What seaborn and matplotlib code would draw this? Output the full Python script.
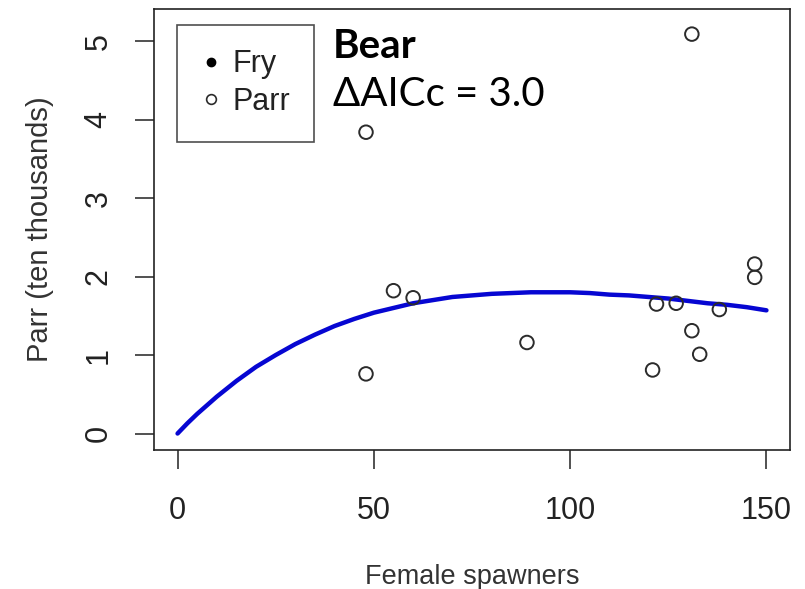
import matplotlib
matplotlib.use("Agg")
import matplotlib.pyplot as plt
import seaborn as sns
import pandas as pd
from matplotlib.lines import Line2D

# Observed parr data (female spawners, parr in ten thousands)
spawners = [48, 55, 60, 48, 89, 121, 122, 127, 131, 133, 138, 147, 147, 131]
parr = [3.84, 1.82, 1.73, 0.76, 1.16, 0.81, 1.65, 1.66, 1.31, 1.01, 1.58, 2.16, 1.99, 5.09]

# Fitted curve
curve_x = [0, 2.5, 5, 10, 15, 20, 25, 30, 35, 40, 45, 50, 55, 60, 65, 70, 75,
           80, 85, 90, 95, 100, 105, 110, 115, 120, 125, 130, 135, 140, 145, 150]
curve_y = [0.0, 0.13, 0.25, 0.47, 0.67, 0.85, 1.00, 1.14, 1.26, 1.37, 1.46, 1.54,
           1.60, 1.66, 1.70, 1.74, 1.76, 1.78, 1.79, 1.80, 1.80, 1.80, 1.79, 1.77,
           1.76, 1.74, 1.72, 1.69, 1.66, 1.64, 1.61, 1.57]

x_ticks = [0, 50, 100, 150]
y_ticks = [0, 1, 2, 3, 4, 5]

sns.set_theme(style="white")
plt.rcParams['font.family'] = ['Liberation Sans', 'DejaVu Sans']

fig = plt.figure(figsize=(8.05, 5.89), dpi=100)
ax = fig.add_axes([154/805, 1-450/589, 636/805, 441/589])

pts = pd.DataFrame({"spawners": spawners, "parr": parr})
crv = pd.DataFrame({"x": curve_x, "y": curve_y})

sns.lineplot(data=crv, x="x", y="y", ax=ax, color="#0606d2", linewidth=3.2, zorder=2)
sns.scatterplot(data=pts, x="spawners", y="parr", ax=ax, marker="o", s=95,
                facecolor="none", edgecolor="#2b2b2b", linewidth=1.4, zorder=3)

ax.set_xlim(-6, 156)
ax.set_ylim(-0.21, 5.41)
ax.set_xticks(x_ticks)
ax.set_yticks(y_ticks)
ax.set_xticklabels([str(v) for v in x_ticks])
ax.set_yticklabels([str(v) for v in y_ticks], rotation=90, va="center")

for s in ax.spines.values():
    s.set_visible(True)
    s.set_color("#222222")
    s.set_linewidth(1.2)

ax.tick_params(axis="both", which="both", direction="out", length=14, width=1.1,
               color="#222222", labelsize=22, labelcolor="#222222")
ax.tick_params(axis="x", pad=19, bottom=True)
ax.tick_params(axis="y", pad=15, left=True)

ax.set_xlabel("Female spawners", fontsize=19.5, color="#333333")
ax.set_ylabel("Parr (ten thousands)", fontsize=21, color="#333333")
ax.xaxis.set_label_coords(0.5, (450-577)/441)
ax.xaxis.label.set_va("center")
ax.yaxis.set_label_coords((40-154)/636, 0.5)
ax.yaxis.label.set_va("center")

handles = [
    Line2D([0], [0], marker="o", linestyle="none", markerfacecolor="black",
           markeredgecolor="black", markersize=6),
    Line2D([0], [0], marker="o", linestyle="none", markerfacecolor="none",
           markeredgecolor="#2b2b2b", markersize=7, markeredgewidth=1.2),
]
leg = ax.legend(handles, ["Fry", "Parr"], loc="upper left",
                bbox_to_anchor=((177-154)/636, (450-25)/441),
                frameon=True, fancybox=False, fontsize=22, handletextpad=0.4,
                handlelength=0.6, borderpad=0.8, labelspacing=0.25,
                borderaxespad=0)
leg.get_frame().set_edgecolor("#222222")
leg.get_frame().set_linewidth(1.2)
for t in leg.get_texts():
    t.set_color("#222222")

ax.text((333-154)/636, (450-46)/441, "Bear", transform=ax.transAxes,
        fontsize=29, fontweight="bold", family=["Lato", "DejaVu Sans"],
        ha="left", va="center", color="black")
ax.text((333-154)/636, (450-95)/441, "\u0394AICc = 3.0", transform=ax.transAxes,
        fontsize=29, family=["Lato", "DejaVu Sans"],
        ha="left", va="center", color="black")

fig.savefig("out.png", dpi=100)
